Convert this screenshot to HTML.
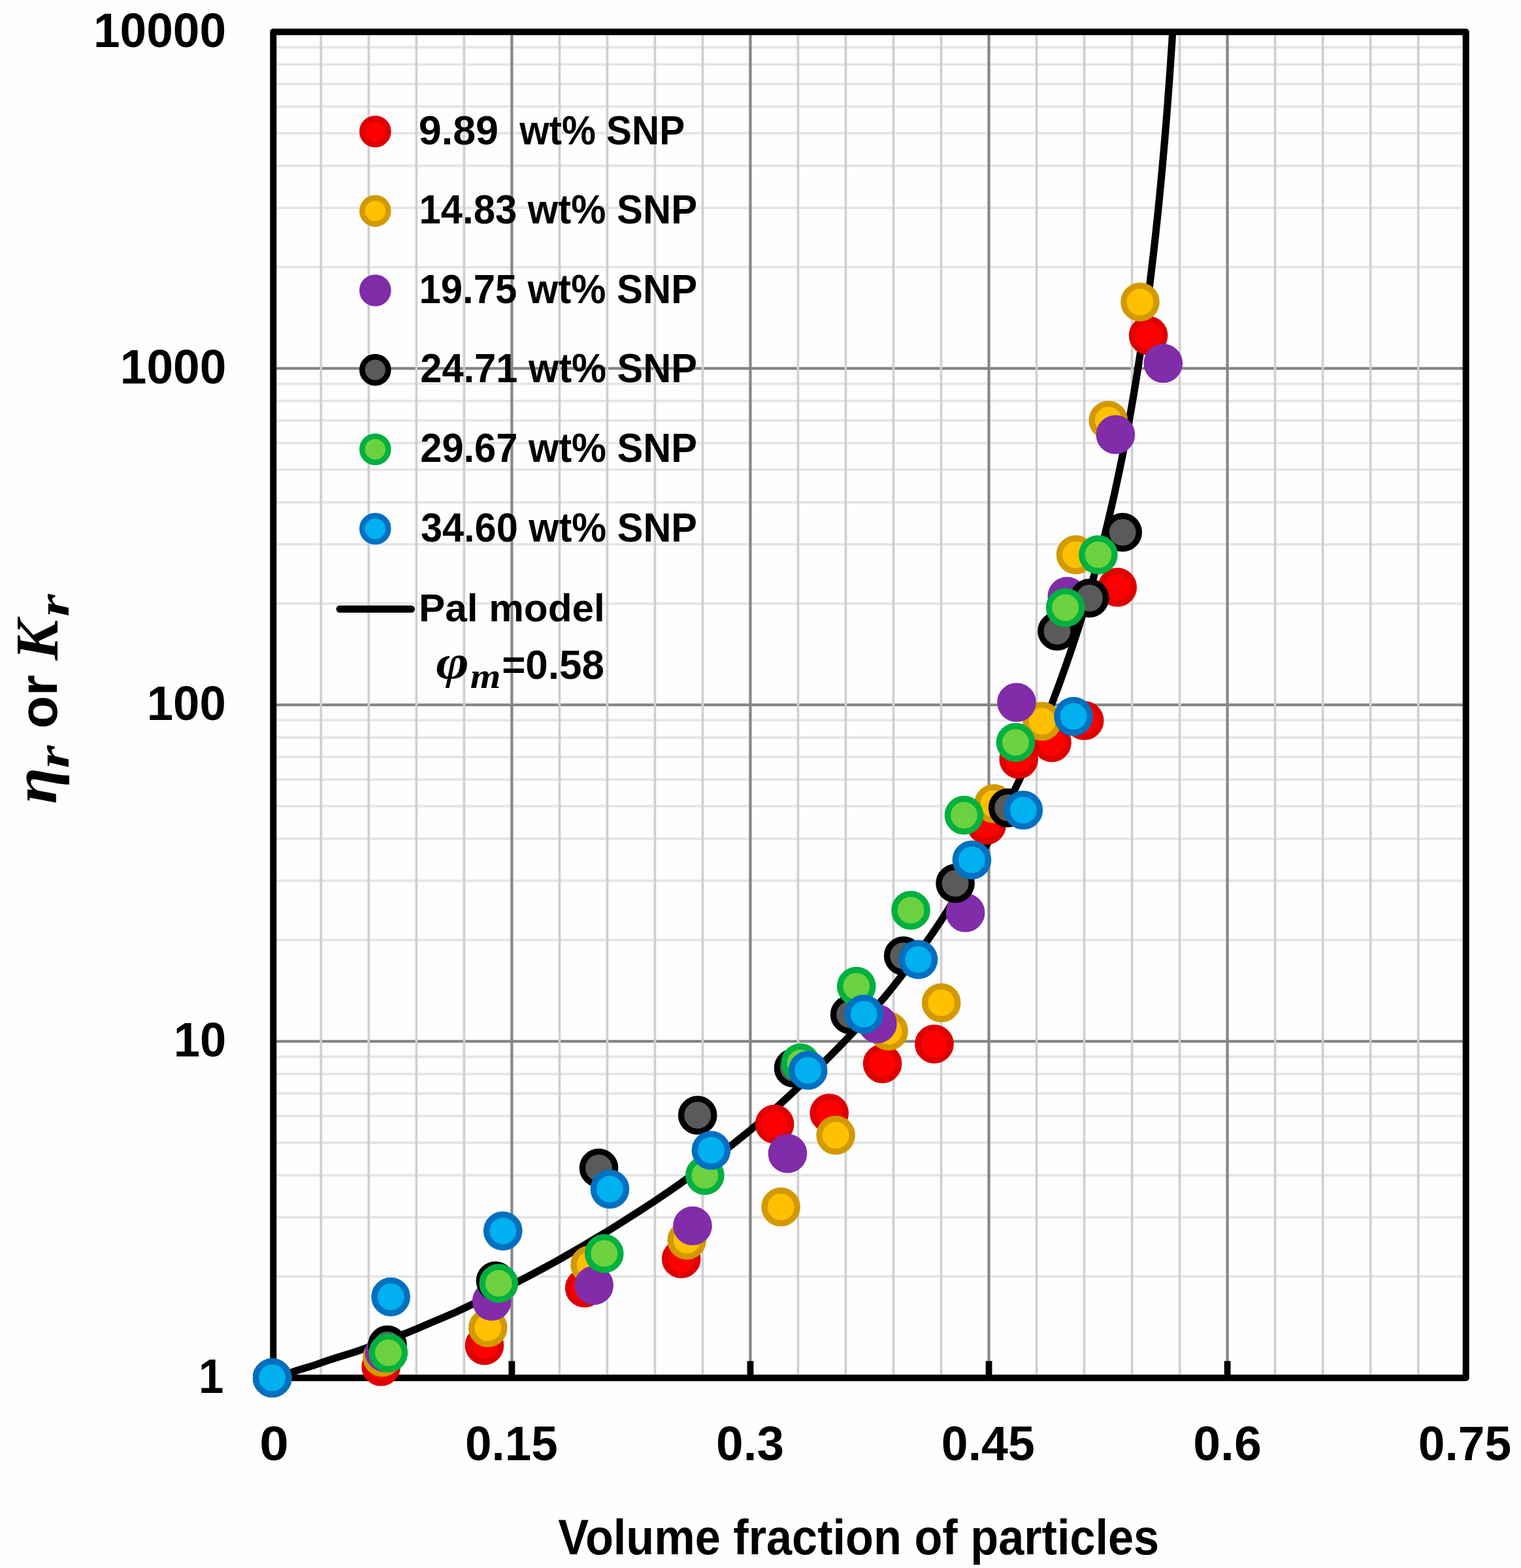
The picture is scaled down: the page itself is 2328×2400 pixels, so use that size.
<!DOCTYPE html>
<html><head><meta charset="utf-8"><title>Relative viscosity vs volume fraction</title>
<style>html,body{margin:0;padding:0;background:#fefefe;overflow:hidden}svg{display:block}</style></head>
<body>
<svg xmlns="http://www.w3.org/2000/svg" width="2328" height="2400" viewBox="0 0 2328 2400"><rect x="0" y="0" width="2328" height="2400" fill="#fefefe"/>
<path d="M418.3 1953.95H2243.7M418.3 1863.26H2243.7M418.3 1798.91H2243.7M418.3 1749.00H2243.7M418.3 1708.21H2243.7M418.3 1673.73H2243.7M418.3 1643.86H2243.7M418.3 1617.52H2243.7M418.3 1438.90H2243.7M418.3 1348.21H2243.7M418.3 1283.86H2243.7M418.3 1233.95H2243.7M418.3 1193.16H2243.7M418.3 1158.68H2243.7M418.3 1128.81H2243.7M418.3 1102.47H2243.7M418.3 923.85H2243.7M418.3 833.16H2243.7M418.3 768.81H2243.7M418.3 718.90H2243.7M418.3 678.11H2243.7M418.3 643.63H2243.7M418.3 613.76H2243.7M418.3 587.42H2243.7M418.3 408.80H2243.7M418.3 318.11H2243.7M418.3 253.76H2243.7M418.3 203.85H2243.7M418.3 163.06H2243.7M418.3 128.58H2243.7M418.3 98.71H2243.7M418.3 72.37H2243.7" stroke="#e5e5e5" stroke-width="3.8" fill="none"/>
<path d="M418.3 1593.95H2243.7M418.3 1078.90H2243.7M418.3 563.85H2243.7" stroke="#868686" stroke-width="4.2" fill="none"/>
<path d="M491.32 48.8V2109.0M564.33 48.8V2109.0M637.35 48.8V2109.0M710.36 48.8V2109.0M856.40 48.8V2109.0M929.41 48.8V2109.0M1002.43 48.8V2109.0M1075.44 48.8V2109.0M1221.48 48.8V2109.0M1294.49 48.8V2109.0M1367.51 48.8V2109.0M1440.52 48.8V2109.0M1586.56 48.8V2109.0M1659.57 48.8V2109.0M1732.59 48.8V2109.0M1805.60 48.8V2109.0M1951.64 48.8V2109.0M2024.65 48.8V2109.0M2097.67 48.8V2109.0M2170.68 48.8V2109.0" stroke="#d0cecf" stroke-width="3.6" fill="none"/>
<path d="M783.38 48.8V2109.0M1148.46 48.8V2109.0M1513.54 48.8V2109.0M1878.62 48.8V2109.0" stroke="#868686" stroke-width="4.2" fill="none"/>
<clipPath id="pa"><rect x="418.3" y="48.8" width="1825.3999999999999" height="2060.2"/></clipPath>
<path d="M418.30 2109.00 L430.47 2105.39 L442.64 2101.73 L454.81 2097.65 L466.98 2093.96 L479.15 2090.23 L491.32 2086.01 L503.49 2081.74 L515.65 2077.84 L527.82 2074.13 L539.99 2070.37 L552.16 2066.32 L564.33 2061.80 L576.50 2057.05 L588.67 2052.58 L600.84 2048.23 L613.01 2043.83 L625.18 2039.19 L637.35 2034.17 L649.52 2028.85 L661.69 2023.68 L673.86 2018.57 L686.03 2013.40 L698.19 2008.04 L710.36 2002.41 L722.53 1996.54 L734.70 1990.71 L746.87 1984.88 L759.04 1978.98 L771.21 1972.94 L783.38 1966.71 L795.55 1960.33 L807.72 1953.95 L819.89 1947.53 L832.06 1941.03 L844.23 1934.40 L856.40 1927.61 L868.57 1920.66 L880.73 1913.65 L892.90 1906.58 L905.07 1899.40 L917.24 1892.12 L929.41 1884.69 L941.58 1877.15 L953.75 1869.54 L965.92 1861.85 L978.09 1854.06 L990.26 1846.15 L1002.43 1838.12 L1014.60 1829.94 L1026.77 1821.60 L1038.94 1813.07 L1051.11 1804.40 L1063.27 1795.59 L1075.44 1786.64 L1087.61 1777.55 L1099.78 1768.30 L1111.95 1758.91 L1124.12 1749.35 L1136.29 1739.62 L1148.46 1729.72 L1160.63 1719.47 L1172.80 1708.96 L1184.97 1698.20 L1197.14 1687.20 L1209.31 1675.97 L1221.48 1664.52 L1233.65 1652.88 L1245.81 1641.04 L1257.98 1629.02 L1270.15 1616.81 L1282.32 1604.52 L1294.49 1591.96 L1306.66 1579.10 L1318.83 1565.94 L1331.00 1552.47 L1343.17 1538.66 L1355.34 1524.50 L1367.51 1509.48 L1379.68 1493.81 L1391.85 1477.63 L1404.02 1461.13 L1416.19 1444.42 L1428.35 1427.07 L1440.52 1408.89 L1452.69 1389.97 L1464.86 1370.47 L1477.03 1350.53 L1489.20 1330.25 L1501.37 1309.24 L1513.54 1287.12 L1525.71 1263.97 L1537.88 1239.93 L1550.05 1215.12 L1562.22 1189.58 L1574.39 1163.12 L1586.56 1135.17 L1598.73 1105.70 L1610.29 1076.26 L1621.27 1046.96 L1631.70 1017.85 L1641.61 989.04 L1651.03 960.30 L1659.98 931.56 L1668.47 902.81 L1676.55 874.06 L1684.22 845.32 L1691.50 816.59 L1698.43 787.87 L1705.00 759.15 L1711.25 730.43 L1717.18 701.67 L1722.82 672.89 L1728.18 644.11 L1733.27 615.32 L1738.10 586.53 L1742.69 557.74 L1747.05 528.95 L1751.20 500.17 L1755.14 471.40 L1758.88 442.63 L1762.43 413.87 L1765.81 385.13 L1769.01 356.39 L1772.06 327.66 L1774.95 298.93 L1777.70 270.22 L1780.31 241.50 L1782.80 212.80 L1785.15 184.10 L1787.39 155.39 L1789.52 126.68 L1791.54 97.97 L1793.46 69.26 L1795.29 40.55 L1797.02 11.84" stroke="#000" stroke-width="11.2" fill="none" stroke-linejoin="round" stroke-linecap="round" clip-path="url(#pa)"/>
<rect x="418.3" y="48.8" width="1825.3999999999999" height="2060.2" fill="none" stroke="#000" stroke-width="10" stroke-linejoin="round"/>
<path d="M783.38 2109.0V2083.3M1148.46 2109.0V2083.3M1513.54 2109.0V2083.3M1878.62 2109.0V2083.3" stroke="#000" stroke-width="9.8" fill="none"/>
<g fill="#ff0000" stroke="#de0000" stroke-width="9.4"><circle cx="416.7" cy="2109" r="25.10"/><circle cx="583.2" cy="2091.7" r="25.10"/><circle cx="741.5" cy="2059.4" r="25.10"/><circle cx="894.7" cy="1971.5" r="25.10"/><circle cx="1042.7" cy="1926.8" r="25.10"/><circle cx="1185.6" cy="1720.6" r="25.10"/><circle cx="1269.2" cy="1703.8" r="25.10"/><circle cx="1350.6" cy="1628.1" r="25.10"/><circle cx="1430" cy="1598" r="25.10"/><circle cx="1510" cy="1263" r="25.10"/><circle cx="1559.2" cy="1162.1" r="25.10"/><circle cx="1610" cy="1136.6" r="25.10"/><circle cx="1659.7" cy="1102.9" r="25.10"/><circle cx="1710.2" cy="898.9" r="25.10"/><circle cx="1757.6" cy="513.6" r="25.10"/></g>
<g fill="#ffc000" stroke="#d29a00" stroke-width="9.4"><circle cx="416.7" cy="2109" r="25.10"/><circle cx="585" cy="2077.5" r="25.10"/><circle cx="746.8" cy="2032.2" r="25.10"/><circle cx="903" cy="1936" r="25.10"/><circle cx="1051.3" cy="1898.3" r="25.10"/><circle cx="1195.1" cy="1847.4" r="25.10"/><circle cx="1279.1" cy="1737.6" r="25.10"/><circle cx="1360.2" cy="1578.3" r="25.10"/><circle cx="1440.7" cy="1534.9" r="25.10"/><circle cx="1521" cy="1230" r="25.10"/><circle cx="1595" cy="1104" r="25.10"/><circle cx="1646.5" cy="849.1" r="25.10"/><circle cx="1696.3" cy="643.2" r="25.10"/><circle cx="1745" cy="462.3" r="25.10"/></g>
<g fill="#812ca8" stroke="#812ca8" stroke-width="9.4"><circle cx="416.7" cy="2109" r="25.10"/><circle cx="588.4" cy="2070" r="25.10"/><circle cx="752.7" cy="1991.6" r="25.10"/><circle cx="909.2" cy="1967.4" r="25.10"/><circle cx="1060" cy="1876.3" r="25.10"/><circle cx="1205.5" cy="1765.6" r="25.10"/><circle cx="1342.9" cy="1567" r="25.10"/><circle cx="1477.6" cy="1397" r="25.10"/><circle cx="1556" cy="1075.1" r="25.10"/><circle cx="1633.3" cy="912.8" r="25.10"/><circle cx="1707.4" cy="665.2" r="25.10"/><circle cx="1780.3" cy="556.1" r="25.10"/></g>
<g fill="#5a5a5a" stroke="#000000" stroke-width="9.4"><circle cx="416.7" cy="2109" r="25.10"/><circle cx="593" cy="2058.5" r="25.10"/><circle cx="758.4" cy="1960.6" r="25.10"/><circle cx="916.5" cy="1787.7" r="25.10"/><circle cx="1067.7" cy="1707" r="25.10"/><circle cx="1214.5" cy="1634.8" r="25.10"/><circle cx="1300.7" cy="1553" r="25.10"/><circle cx="1382.7" cy="1463.1" r="25.10"/><circle cx="1462.1" cy="1352.1" r="25.10"/><circle cx="1542.7" cy="1236.5" r="25.10"/><circle cx="1618" cy="966" r="25.10"/><circle cx="1667.5" cy="915.5" r="25.10"/><circle cx="1718.2" cy="814.8" r="25.10"/></g>
<g fill="#6cd13f" stroke="#00b140" stroke-width="9.4"><circle cx="416.7" cy="2109" r="25.10"/><circle cx="594.4" cy="2070.6" r="25.10"/><circle cx="763.3" cy="1964.3" r="25.10"/><circle cx="924.8" cy="1918.7" r="25.10"/><circle cx="1078.8" cy="1799.1" r="25.10"/><circle cx="1225.2" cy="1626.8" r="25.10"/><circle cx="1310.8" cy="1509.6" r="25.10"/><circle cx="1394" cy="1393.2" r="25.10"/><circle cx="1475.5" cy="1247.8" r="25.10"/><circle cx="1554.5" cy="1136.3" r="25.10"/><circle cx="1630.6" cy="930" r="25.10"/><circle cx="1680.9" cy="849.1" r="25.10"/></g>
<g fill="#00b0f0" stroke="#0070c0" stroke-width="9.4"><circle cx="416.7" cy="2109" r="25.10"/><circle cx="598.1" cy="1985" r="25.10"/><circle cx="769.7" cy="1884.1" r="25.10"/><circle cx="933.4" cy="1820.1" r="25.10"/><circle cx="1088.4" cy="1760.7" r="25.10"/><circle cx="1236.7" cy="1638.3" r="25.10"/><circle cx="1322.2" cy="1552.4" r="25.10"/><circle cx="1405.5" cy="1468.6" r="25.10"/><circle cx="1487.4" cy="1316.2" r="25.10"/><circle cx="1566.3" cy="1240" r="25.10"/><circle cx="1643.1" cy="1096.6" r="25.10"/></g>
<circle cx="574.3" cy="201.3" r="20.00" fill="#ff0000" stroke="#de0000" stroke-width="8.6"/>
<circle cx="574.3" cy="322.9" r="20.00" fill="#ffc000" stroke="#d29a00" stroke-width="8.6"/>
<circle cx="574.3" cy="444.5" r="20.00" fill="#812ca8" stroke="#812ca8" stroke-width="8.6"/>
<circle cx="574.3" cy="566.1" r="20.00" fill="#5a5a5a" stroke="#000000" stroke-width="8.6"/>
<circle cx="574.3" cy="687.7" r="20.00" fill="#6cd13f" stroke="#00b140" stroke-width="8.6"/>
<circle cx="574.3" cy="809.3" r="20.00" fill="#00b0f0" stroke="#0070c0" stroke-width="8.6"/>
<path d="M520 932.3H629.5" stroke="#000" stroke-width="11" stroke-linecap="round"/>
<g fill="#000"><text x="640.79" y="220.68" font-size="62.25" textLength="122.20" lengthAdjust="spacingAndGlyphs" style="font-family:'Liberation Sans', Arial, sans-serif;font-weight:bold;font-style:normal;white-space:pre">9.89</text><text x="795.20" y="220.68" font-size="62.25" textLength="252.89" lengthAdjust="spacingAndGlyphs" style="font-family:'Liberation Sans', Arial, sans-serif;font-weight:bold;font-style:normal;white-space:pre">wt% SNP</text><text x="641.51" y="342.28" font-size="62.25" textLength="425.55" lengthAdjust="spacingAndGlyphs" style="font-family:'Liberation Sans', Arial, sans-serif;font-weight:bold;font-style:normal;white-space:pre">14.83 wt% SNP</text><text x="641.51" y="463.88" font-size="62.25" textLength="425.55" lengthAdjust="spacingAndGlyphs" style="font-family:'Liberation Sans', Arial, sans-serif;font-weight:bold;font-style:normal;white-space:pre">19.75 wt% SNP</text><text x="643.31" y="585.48" font-size="62.25" textLength="423.73" lengthAdjust="spacingAndGlyphs" style="font-family:'Liberation Sans', Arial, sans-serif;font-weight:bold;font-style:normal;white-space:pre">24.71 wt% SNP</text><text x="643.31" y="707.08" font-size="62.25" textLength="423.73" lengthAdjust="spacingAndGlyphs" style="font-family:'Liberation Sans', Arial, sans-serif;font-weight:bold;font-style:normal;white-space:pre">29.67 wt% SNP</text><text x="643.91" y="828.68" font-size="62.25" textLength="423.13" lengthAdjust="spacingAndGlyphs" style="font-family:'Liberation Sans', Arial, sans-serif;font-weight:bold;font-style:normal;white-space:pre">34.60 wt% SNP</text><text x="640.98" y="950.80" font-size="59.73" textLength="284.87" lengthAdjust="spacingAndGlyphs" style="font-family:'Liberation Sans', Arial, sans-serif;font-weight:bold;font-style:normal;white-space:pre">Pal model</text><text x="667.17" y="1038.30" font-size="71.91" textLength="50.55" lengthAdjust="spacingAndGlyphs" style="font-family:'Liberation Serif', 'DejaVu Serif', serif;font-weight:bold;font-style:italic;white-space:pre">φ</text><text x="719.80" y="1053.40" font-size="55.53" textLength="46.68" lengthAdjust="spacingAndGlyphs" style="font-family:'Liberation Serif', 'DejaVu Serif', serif;font-weight:bold;font-style:italic;white-space:pre">m</text><text x="768.22" y="1038.87" font-size="62.68" textLength="156.65" lengthAdjust="spacingAndGlyphs" style="font-family:'Liberation Sans', Arial, sans-serif;font-weight:bold;font-style:normal;white-space:pre">=0.58</text><text x="303.95" y="2132.30" font-size="74.78" textLength="38.46" lengthAdjust="spacingAndGlyphs" style="font-family:'Liberation Sans', Arial, sans-serif;font-weight:bold;font-style:normal;white-space:pre">1</text><text x="265.66" y="1617.20" font-size="74.65" textLength="80.51" lengthAdjust="spacingAndGlyphs" style="font-family:'Liberation Sans', Arial, sans-serif;font-weight:bold;font-style:normal;white-space:pre">10</text><text x="224.74" y="1102.15" font-size="74.65" textLength="121.16" lengthAdjust="spacingAndGlyphs" style="font-family:'Liberation Sans', Arial, sans-serif;font-weight:bold;font-style:normal;white-space:pre">100</text><text x="183.82" y="587.10" font-size="74.65" textLength="162.55" lengthAdjust="spacingAndGlyphs" style="font-family:'Liberation Sans', Arial, sans-serif;font-weight:bold;font-style:normal;white-space:pre">1000</text><text x="142.92" y="72.05" font-size="74.65" textLength="203.16" lengthAdjust="spacingAndGlyphs" style="font-family:'Liberation Sans', Arial, sans-serif;font-weight:bold;font-style:normal;white-space:pre">10000</text><text x="397.24" y="2235.47" font-size="73.24" textLength="44.62" lengthAdjust="spacingAndGlyphs" style="font-family:'Liberation Sans', Arial, sans-serif;font-weight:bold;font-style:normal;white-space:pre">0</text><text x="712.09" y="2235.47" font-size="73.24" textLength="141.63" lengthAdjust="spacingAndGlyphs" style="font-family:'Liberation Sans', Arial, sans-serif;font-weight:bold;font-style:normal;white-space:pre">0.15</text><text x="1096.11" y="2235.47" font-size="73.24" textLength="104.00" lengthAdjust="spacingAndGlyphs" style="font-family:'Liberation Sans', Arial, sans-serif;font-weight:bold;font-style:normal;white-space:pre">0.3</text><text x="1440.81" y="2235.47" font-size="73.24" textLength="142.98" lengthAdjust="spacingAndGlyphs" style="font-family:'Liberation Sans', Arial, sans-serif;font-weight:bold;font-style:normal;white-space:pre">0.45</text><text x="1826.19" y="2235.47" font-size="73.24" textLength="104.63" lengthAdjust="spacingAndGlyphs" style="font-family:'Liberation Sans', Arial, sans-serif;font-weight:bold;font-style:normal;white-space:pre">0.6</text><text x="2170.72" y="2235.47" font-size="73.24" textLength="142.36" lengthAdjust="spacingAndGlyphs" style="font-family:'Liberation Sans', Arial, sans-serif;font-weight:bold;font-style:normal;white-space:pre">0.75</text><text x="854.30" y="2378.70" font-size="75.36" textLength="919.89" lengthAdjust="spacingAndGlyphs" style="font-family:'Liberation Sans', Arial, sans-serif;font-weight:bold;font-style:normal;white-space:pre">Volume fraction of particles</text></g>
<g transform="rotate(-90)" fill="#000"><text x="-1230.43" y="86.35" font-size="95.00" textLength="55.69" lengthAdjust="spacingAndGlyphs" style="font-family:'Liberation Serif', 'DejaVu Serif', serif;font-weight:bold;font-style:italic;white-space:pre">η</text><text x="-1175.69" y="105.10" font-size="68.94" textLength="34.82" lengthAdjust="spacingAndGlyphs" style="font-family:'Liberation Serif', 'DejaVu Serif', serif;font-weight:bold;font-style:italic;white-space:pre">r</text><text x="-1115.29" y="86.68" font-size="81.64" textLength="82.23" lengthAdjust="spacingAndGlyphs" style="font-family:'Liberation Sans', Arial, sans-serif;font-weight:bold;font-style:normal;white-space:pre">or</text><text x="-1010.48" y="87.50" font-size="93.38" textLength="61.68" lengthAdjust="spacingAndGlyphs" style="font-family:'Liberation Serif', 'DejaVu Serif', serif;font-weight:bold;font-style:italic;white-space:pre">K</text><text x="-943.87" y="105.00" font-size="68.30" textLength="34.50" lengthAdjust="spacingAndGlyphs" style="font-family:'Liberation Serif', 'DejaVu Serif', serif;font-weight:bold;font-style:italic;white-space:pre">r</text></g></svg>
</body></html>
